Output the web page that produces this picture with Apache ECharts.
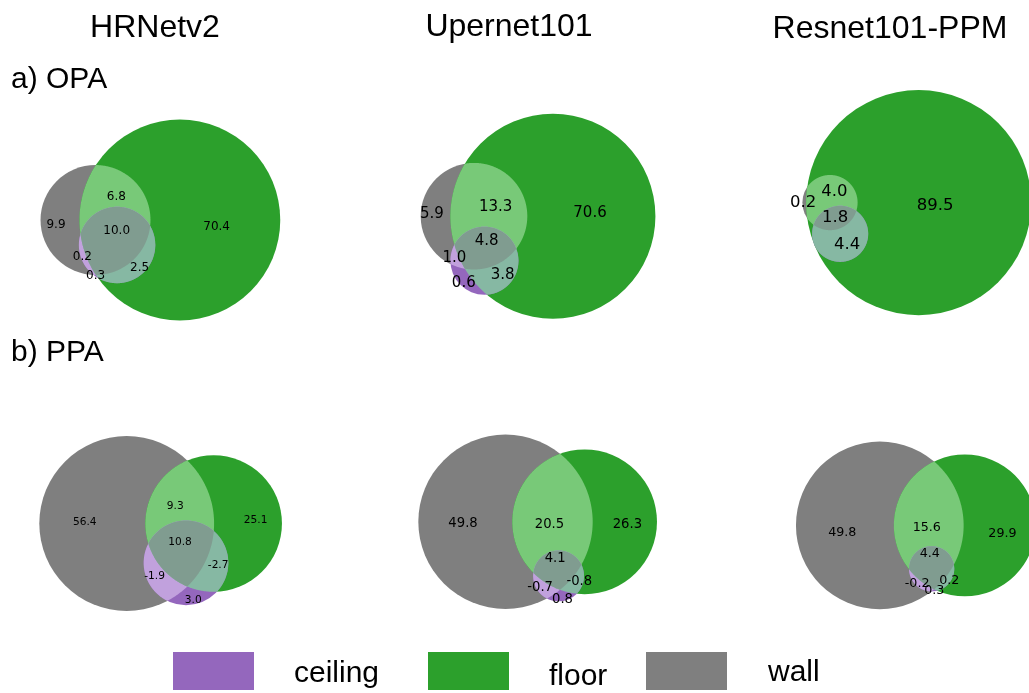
<!DOCTYPE html>
<html>
<head>
<meta charset="utf-8">
<script src="https://cdn.jsdelivr.net/npm/echarts@6/dist/echarts.min.js"></script>
<style>
html, body { margin: 0; padding: 0; background: #fff; }
#main { width: 1029px; height: 693px; }
</style>
</head>
<body>
<div id="main"></div>
<script>
// venn region order: wall only, floor only, wall&floor, ceiling only, wall&ceiling, floor&ceiling, all three
var models = ['HRNetv2', 'Upernet101', 'Resnet101-PPM'];
var rowTitles = ['a) OPA', 'b) PPA'];
var setNames = ['wall', 'floor', 'ceiling'];
var legendNames = ['ceiling', 'floor', 'wall'];

var opaHRNet   = [9.9, 70.4, 6.8, 0.3, 0.2, 2.5, 10.0];
var opaUpernet = [5.9, 70.6, 13.3, 0.6, 1.0, 3.8, 4.8];
var opaResnet  = [0.2, 89.5, 4.0, 0, 0, 4.4, 1.8];
var ppaHRNet   = [56.4, 25.1, 9.3, 3.0, -1.9, -2.7, 10.8];
var ppaUpernet = [49.8, 26.3, 20.5, 0.8, -0.7, -0.8, 4.1];
var ppaResnet  = [49.8, 29.9, 15.6, 0.3, -0.2, 0.2, 4.4];

var panels = [opaHRNet, opaUpernet, opaResnet, ppaHRNet, ppaUpernet, ppaResnet];

// pixel spot of the wall circle centre and px per unit, for each panel
var anchors = [
    [95.5, 220, 10.6], [474, 216.2, 10.66], [830, 202.6, 11.27],
    [126.7, 523.5, 9.87], [505.5, 521.8, 10.06], [879.8, 525.4, 10.02]
];
var labelFont = [12, 15, 16.5, 10.6, 13.2, 12.7];

var setColors = ['#7f7f7f', '#2ca02c', '#9467bd']; // wall, floor, ceiling
var layerMasks = [1, 2, 4, 3, 5, 6, 7];
var regionMasks = [1, 2, 3, 4, 5, 6, 7];

function bitsOf(mask) {
    return [0, 1, 2].filter(function (i) { return mask & (1 << i); });
}

function hexRgb(h) {
    return [1, 3, 5].map(function (i) { return parseInt(h.slice(i, i + 2), 16) / 255; });
}

// same mixing as matplotlib_venn
function maskColor(mask) {
    var b = bitsOf(mask);
    if (b.length === 1) return setColors[b[0]];
    var k = b.length === 2 ? 0.7 : 0.4;
    var rgb = [0, 0, 0];
    b.forEach(function (i) {
        var c = hexRgb(setColors[i]);
        rgb = rgb.map(function (v, j) { return v + c[j]; });
    });
    return 'rgb(' + rgb.map(function (v) { return Math.round(Math.min(1, k * v) * 255); }).join(',') + ')';
}

function lensArea(r1, r2, d) {
    if (d >= r1 + r2) return 0;
    if (d <= Math.abs(r1 - r2)) return Math.PI * Math.min(r1, r2) * Math.min(r1, r2);
    var a1 = Math.acos((d * d + r1 * r1 - r2 * r2) / (2 * d * r1));
    var a2 = Math.acos((d * d + r2 * r2 - r1 * r1) / (2 * d * r2));
    return r1 * r1 * a1 + r2 * r2 * a2 -
        0.5 * Math.sqrt((-d + r1 + r2) * (d + r1 - r2) * (d - r1 + r2) * (d + r1 + r2));
}

function distForArea(r1, r2, area) {
    var lo = Math.abs(r1 - r2), hi = r1 + r2;
    // small circle fully inside: it touches the big one's edge
    if (area >= lensArea(r1, r2, lo) - 1e-9) return lo + 3e-3;
    for (var i = 0; i < 60; i++) {
        var mid = (lo + hi) / 2;
        if (lensArea(r1, r2, mid) > area) lo = mid; else hi = mid;
    }
    return (lo + hi) / 2;
}

// circles [cx, cy, r] for wall, floor, ceiling; area follows |value|
function layout(v) {
    var a = v.map(Math.abs);
    var tot = [a[0] + a[2] + a[4] + a[6], a[1] + a[2] + a[5] + a[6], a[3] + a[4] + a[5] + a[6]];
    var r = tot.map(Math.sqrt);
    var dWF = distForArea(r[0], r[1], Math.PI * (a[2] + a[6]));
    var dWC = distForArea(r[0], r[2], Math.PI * (a[4] + a[6]));
    var dFC = distForArea(r[1], r[2], Math.PI * (a[5] + a[6]));
    var cx = (dWC * dWC - dFC * dFC + dWF * dWF) / (2 * dWF);
    var cy = -Math.sqrt(Math.max(0, dWC * dWC - cx * cx));
    return [[0, 0, r[0]], [dWF, 0, r[1]], [cx, cy, r[2]]];
}

function regionPolygon(circles, mask) {
    var idx = bitsOf(mask), pts = [];
    idx.forEach(function (i) {
        var c = circles[i];
        for (var k = 0; k < 720; k++) {
            var t = k / 720 * Math.PI * 2;
            var x = c[0] + c[2] * Math.cos(t), y = c[1] + c[2] * Math.sin(t);
            var ok = idx.every(function (j) {
                if (j === i) return true;
                var o = circles[j], dx = x - o[0], dy = y - o[1];
                return dx * dx + dy * dy <= o[2] * o[2] + 1e-9;
            });
            if (ok) pts.push([x, y]);
        }
    });
    if (!pts.length) return [];
    var mx = 0, my = 0;
    pts.forEach(function (p) { mx += p[0]; my += p[1]; });
    mx /= pts.length; my /= pts.length;
    pts.sort(function (p, q) {
        return Math.atan2(p[1] - my, p[0] - mx) - Math.atan2(q[1] - my, q[0] - mx);
    });
    return pts;
}

// label spot = mean of the boundary arc midpoints weighted by arc angle,
// taken on the biggest piece when a region falls apart
function labelPositions(circles) {
    var N = 3600;
    function onCircle(c, a) {
        var t = a / N * 2 * Math.PI;
        return [c[0] + c[2] * Math.cos(t), c[1] + c[2] * Math.sin(t)];
    }
    return regionMasks.map(function (m) {
        var arcs = [];
        circles.forEach(function (c, i) {
            var ok = [];
            for (var k = 0; k < N; k++) {
                var p = onCircle(c, k + 0.5);
                var good = true;
                for (var j = 0; j < circles.length; j++) {
                    if (j === i) continue;
                    var o = circles[j], dx = p[0] - o[0], dy = p[1] - o[1];
                    if ((dx * dx + dy * dy < o[2] * o[2]) !== !!(m & (1 << j))) { good = false; break; }
                }
                ok.push(good);
            }
            var start = ok.indexOf(false);
            if (start < 0) {
                arcs.push({ mid: [c[0], c[1]], w: N, ends: [] });
                return;
            }
            var run = 0, runStart = 0;
            for (var q = 1; q <= N; q++) {
                if (ok[(start + q) % N]) {
                    if (!run) runStart = q;
                    run++;
                } else if (run) {
                    var a0 = start + runStart;
                    arcs.push({
                        mid: onCircle(c, a0 + run / 2),
                        w: run,
                        ends: [onCircle(c, a0), onCircle(c, a0 + run)]
                    });
                    run = 0;
                }
            }
        });
        if (!arcs.length) return null;
        // group arcs that share end points
        var parent = arcs.map(function (a, i) { return i; });
        function find(i) { while (parent[i] !== i) i = parent[i] = parent[parent[i]]; return i; }
        for (var a = 0; a < arcs.length; a++) {
            for (var b = a + 1; b < arcs.length; b++) {
                var near = arcs[a].ends.some(function (p) {
                    return arcs[b].ends.some(function (q) {
                        return Math.hypot(p[0] - q[0], p[1] - q[1]) < 0.08;
                    });
                });
                if (near) parent[find(a)] = find(b);
            }
        }
        var groups = {};
        arcs.forEach(function (arc, i) {
            var g = find(i);
            if (!groups[g]) groups[g] = { sx: 0, sy: 0, w: 0 };
            groups[g].sx += arc.mid[0] * arc.w;
            groups[g].sy += arc.mid[1] * arc.w;
            groups[g].w += arc.w;
        });
        var best = null;
        Object.keys(groups).forEach(function (g) {
            if (!best || groups[g].w > best.w) best = groups[g];
        });
        return [best.sx / best.w, best.sy / best.w];
    });
}

var myChart = echarts.init(document.getElementById('main'));

var grids = [], xAxes = [], yAxes = [], series = [];
panels.forEach(function (values, p) {
    var an = anchors[p], s = an[2];
    var circles = layout(values);
    var polys = layerMasks.map(function (m) { return bitsOf(m).length > 1 ? regionPolygon(circles, m) : null; });
    var spots = labelPositions(circles);

    grids.push({ left: an[0], top: an[1] - 10 * s, width: 10 * s, height: 10 * s, outerBoundsMode: 'none' });
    xAxes.push({ type: 'value', gridIndex: p, min: 0, max: 10, show: false });
    yAxes.push({ type: 'value', gridIndex: p, min: 0, max: 10, show: false });

    series.push({
        type: 'custom',
        xAxisIndex: p, yAxisIndex: p,
        silent: true,
        data: layerMasks.map(function (m) { return [m]; }),
        renderItem: function (params, api) {
            var m = layerMasks[params.dataIndex], b = bitsOf(m);
            if (b.length === 1) {
                var c = circles[b[0]];
                var ctr = api.coord([c[0], c[1]]);
                return {
                    type: 'circle',
                    shape: { cx: ctr[0], cy: ctr[1], r: api.size([c[2], 0])[0] },
                    style: { fill: maskColor(m) }
                };
            }
            var pts = polys[params.dataIndex];
            if (!pts.length) return null;
            return {
                type: 'polygon',
                shape: { points: pts.map(function (q) { return api.coord(q); }) },
                style: { fill: maskColor(m) }
            };
        }
    });

    var labelData = [];
    values.forEach(function (v, i) {
        if (v !== 0 && spots[i]) labelData.push([spots[i][0], spots[i][1], v]);
    });
    series.push({
        type: 'custom',
        xAxisIndex: p, yAxisIndex: p,
        silent: true,
        data: labelData,
        renderItem: function (params, api) {
            var pt = api.coord([api.value(0), api.value(1)]);
            return {
                type: 'text',
                x: pt[0], y: pt[1],
                style: {
                    text: api.value(2).toFixed(1),
                    fill: '#000',
                    font: labelFont[p] + 'px "DejaVu Sans"',
                    align: 'center',
                    verticalAlign: 'middle'
                }
            };
        }
    });
});

var titleX = [155, 509, 890];
var titleY = [28, 27, 29];
var graphics = [];
models.forEach(function (name, i) {
    graphics.push({
        type: 'text', x: titleX[i], y: titleY[i],
        style: { text: name, font: '32px "Liberation Sans"', fill: '#000', align: 'center', verticalAlign: 'middle' }
    });
});
var rowY = [79.5, 352.5];
rowTitles.forEach(function (t, i) {
    graphics.push({
        type: 'text', x: 11, y: rowY[i],
        style: { text: t, font: '30px "Liberation Sans"', fill: '#000', align: 'left', verticalAlign: 'middle' }
    });
});

var legendBoxX = [173, 428, 646];
var legendTextX = [294, 549, 768];
var legendTextY = [673.5, 677, 672.5];
legendNames.forEach(function (name, i) {
    graphics.push({
        type: 'rect',
        shape: { x: legendBoxX[i], y: 652, width: 81, height: 38 },
        style: { fill: setColors[setNames.indexOf(name)] }
    });
    graphics.push({
        type: 'text', x: legendTextX[i], y: legendTextY[i],
        style: { text: name, font: '30px "Liberation Sans"', fill: '#000', align: 'left', verticalAlign: 'middle' }
    });
});

var option = {
    backgroundColor: '#fff',
    animation: false,
    grid: grids,
    xAxis: xAxes,
    yAxis: yAxes,
    series: series,
    graphic: graphics
};
myChart.setOption(option);
</script>
</body>
</html>
